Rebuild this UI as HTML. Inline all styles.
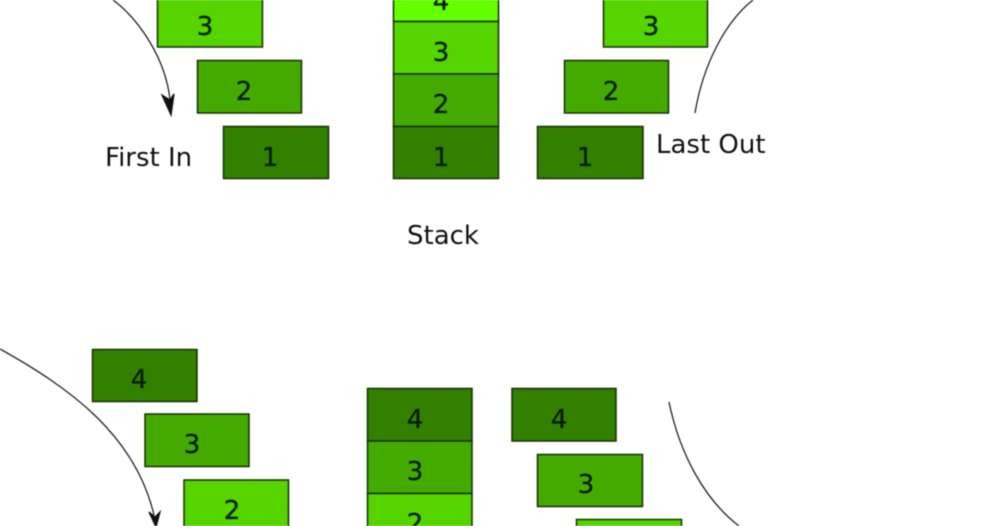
<!DOCTYPE html>
<html><head><meta charset="utf-8"><style>
html,body{margin:0;padding:0;background:#fff;width:1000px;height:526px;overflow:hidden}
svg{display:block;filter:blur(.45px)}
text{font-family:"DejaVu Sans","Liberation Sans",sans-serif;font-size:26px;fill:#111}
.n{fill:#062000;text-anchor:middle;stroke:#062000;stroke-width:.35}
rect{stroke:#143006;stroke-width:1.5}
.a{fill:#338000}.b{fill:#44aa00}.c{fill:#55d400}.d{fill:#66ff00}
path{fill:none;stroke:#222;stroke-width:1.3}
</style></head><body>
<svg width="1000" height="526" viewBox="0 0 1000 526" xmlns="http://www.w3.org/2000/svg" style="overflow:hidden">
<rect class="c" x="157.500" y="-5.500" width="105" height="52.500"/>
<rect class="b" x="197.500" y="60.500" width="104" height="52.500"/>
<rect class="a" x="223.500" y="126.500" width="105" height="52"/>
<text class="n" x="205" y="35">3</text>
<text class="n" x="244" y="100">2</text>
<text class="n" x="270" y="166">1</text>
<path d="M113 0C140 20 166 60 170 100"/>
<path d="M171 115L162 95L170 100L174 94Z" style="fill:#111;stroke:#111"/>
<text x="105" y="166">First In</text>

<rect class="d" x="393.500" y="-31.500" width="105" height="53"/>
<rect class="c" x="393.500" y="21.500" width="105" height="52.500"/>
<rect class="b" x="393.500" y="74" width="105" height="52.500"/>
<rect class="a" x="393.500" y="126.500" width="105" height="52"/>
<text class="n" x="441" y="10">4</text>
<text class="n" x="441" y="61">3</text>
<text class="n" x="441" y="113">2</text>
<text class="n" x="441" y="166">1</text>

<rect class="c" x="603.500" y="-5.500" width="104" height="52.500"/>
<rect class="b" x="564.500" y="60.500" width="104" height="52.500"/>
<rect class="a" x="537.500" y="126.500" width="105.500" height="52"/>
<text class="n" x="651" y="35">3</text>
<text class="n" x="611" y="100">2</text>
<text class="n" x="585" y="166">1</text>
<path d="M695 113C703 65 725 22 753 0"/>
<text x="656" y="153">Last Out</text>
<text x="407" y="244">Stack</text>

<rect class="a" x="92.500" y="349.500" width="104.500" height="52"/>
<rect class="b" x="145" y="414" width="104" height="52.500"/>
<rect class="c" x="184" y="480" width="104.500" height="50"/>
<text class="n" x="139" y="388">4</text>
<text class="n" x="192" y="453">3</text>
<text class="n" x="232" y="519">2</text>
<path d="M0 349C70 388 135 435 154 515"/>
<path d="M156 527L149 512L155 517L160 512Z" style="fill:#111;stroke:#111"/>

<rect class="a" x="367.500" y="388.500" width="104.500" height="52.500"/>
<rect class="b" x="367.500" y="441" width="104.500" height="52.500"/>
<rect class="c" x="367.500" y="493.500" width="104.500" height="36"/>
<text class="n" x="415" y="428">4</text>
<text class="n" x="415" y="480">3</text>
<text class="n" x="415" y="532">2</text>

<rect class="a" x="512" y="388.500" width="104" height="52.500"/>
<rect class="b" x="537.500" y="454.500" width="105" height="52"/>
<rect class="c" x="576.500" y="519.500" width="105" height="12"/>
<text class="n" x="559" y="428">4</text>
<text class="n" x="586" y="493">3</text>
<path d="M669 402C680 455 705 500 739 526"/>
</svg>
</body></html>
